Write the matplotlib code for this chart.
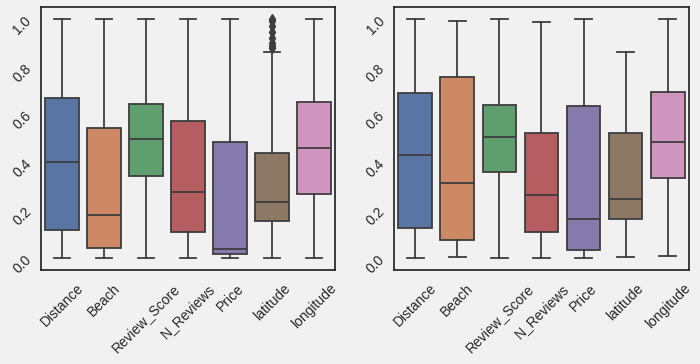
import colorsys
import numpy as np
import matplotlib
matplotlib.use('Agg')
import matplotlib.pyplot as plt
import matplotlib.colors as mcolors

features = ['Distance', 'Beach', 'Review_Score', 'N_Reviews', 'Price', 'latitude', 'longitude']

# left panel box stats
left_q1 = [0.118, 0.042, 0.343, 0.108, 0.018, 0.157, 0.267]
left_med = [0.403, 0.179, 0.497, 0.275, 0.040, 0.236, 0.462]
left_q3 = [0.669, 0.544, 0.646, 0.574, 0.485, 0.440, 0.654]
left_lo = [0.0, 0.0, 0.0, 0.0, 0.0, 0.0, 0.0]
left_hi = [1.0, 1.0, 1.0, 1.0, 1.0, 0.861, 1.0]
left_fliers = [[], [], [], [], [], [0.877, 0.885, 0.90, 0.92, 0.945, 0.97, 0.99, 1.0], []]

# right panel box stats
right_q1 = [0.128, 0.076, 0.358, 0.108, 0.035, 0.165, 0.336]
right_med = [0.429, 0.312, 0.506, 0.262, 0.165, 0.247, 0.485]
right_q3 = [0.689, 0.758, 0.642, 0.525, 0.637, 0.521, 0.694]
right_lo = [0.0, 0.006, 0.0, 0.0, 0.0, 0.006, 0.008]
right_hi = [1.0, 0.993, 1.0, 0.985, 1.0, 0.861, 1.0]
right_fliers = [[], [], [], [], [], [], []]

deep = ['#4C72B0', '#DD8452', '#55A868', '#C44E52', '#8172B3', '#937860', '#DA8BC3']
bg = '#f1f1f1'
line_col = '#3d3d3d'


def desat(c, prop=0.75):
    r, g, b = mcolors.to_rgb(c)
    h, l, s = colorsys.rgb_to_hls(r, g, b)
    return colorsys.hls_to_rgb(h, l, s * prop)


def make_stats(q1, med, q3, lo, hi, fl):
    out = []
    for i in range(len(q1)):
        out.append(dict(q1=q1[i], med=med[i], q3=q3[i], whislo=lo[i], whishi=hi[i],
                        fliers=np.array(fl[i])))
    return out


plt.rcParams['font.family'] = ['Liberation Sans', 'DejaVu Sans']

fig = plt.figure(figsize=(7, 3.64), dpi=100, facecolor=bg)
ax1 = fig.add_axes([0.0586, 0.258, 0.42, 0.723])
ax2 = fig.add_axes([0.563, 0.258, 0.421, 0.723])

panels = [(ax1, make_stats(left_q1, left_med, left_q3, left_lo, left_hi, left_fliers)),
          (ax2, make_stats(right_q1, right_med, right_q3, right_lo, right_hi, right_fliers))]

lw = 1.3
for ax, stats in panels:
    ax.set_facecolor(bg)
    res = ax.bxp(stats, positions=range(len(features)), widths=0.8, patch_artist=True,
                 showfliers=True,
                 boxprops=dict(edgecolor=line_col, linewidth=lw),
                 medianprops=dict(color=line_col, linewidth=lw),
                 whiskerprops=dict(color=line_col, linewidth=lw),
                 capprops=dict(color=line_col, linewidth=lw),
                 flierprops=dict(marker='d', markerfacecolor=line_col, markeredgecolor=line_col,
                                 markersize=5.5))
    for patch, c in zip(res['boxes'], deep):
        patch.set_facecolor(desat(c))
    ax.set_xlim(-0.5, len(features) - 0.5)
    ax.set_ylim(-0.05, 1.05)
    ax.set_yticks([0.0, 0.2, 0.4, 0.6, 0.8, 1.0])
    ax.set_yticklabels(['0.0', '0.2', '0.4', '0.6', '0.8', '1.0'], rotation=45)
    ax.set_xticks(range(len(features)))
    ax.set_xticklabels(features, rotation=45)
    ax.tick_params(length=0, labelsize=10, colors='#262626')
    ax.tick_params(axis='y', pad=5)
    ax.tick_params(axis='x', pad=8)
    for s in ax.spines.values():
        s.set_color('#262626')
        s.set_linewidth(1.25)

fig.savefig('out.png', dpi=100, facecolor=bg)
